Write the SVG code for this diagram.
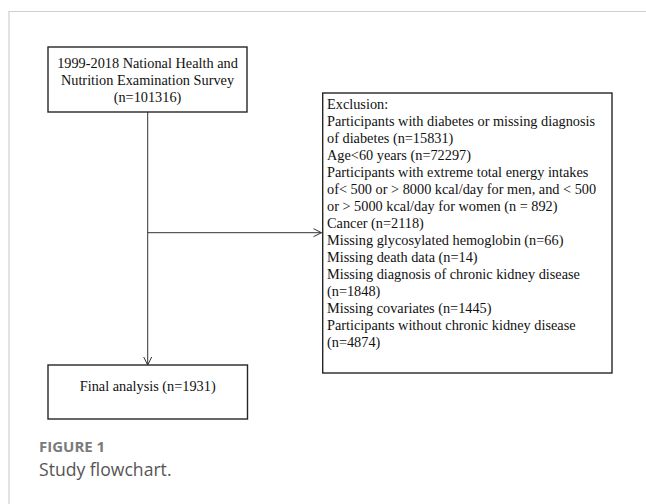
<svg xmlns="http://www.w3.org/2000/svg" width="646" height="504" viewBox="0 0 646 504">
<style>
.box{fill:#fff;stroke:#262626;stroke-width:1.4}
.t{font-family:"Liberation Serif","Times New Roman",serif;font-size:14.3px;fill:#111}
.c{text-anchor:middle}
.ln{stroke:#333;stroke-width:1;fill:none}
.frame{stroke:#cfcfcf;stroke-width:1.2;fill:none}
.cap1{font-family:"Open Sans","Noto Sans",sans-serif;font-weight:bold;font-size:15px;fill:#7a7a7a}
.cap2{font-family:"Open Sans","Noto Sans",sans-serif;font-size:17.6px;fill:#555}
</style>
<defs>
<marker id="arr" markerWidth="10" markerHeight="10" refX="9" refY="5" orient="auto" markerUnits="userSpaceOnUse">
<path d="M1,1 L9,5 L1,9" fill="none" stroke="#333" stroke-width="1"/>
</marker>
</defs>
<path class="frame" d="M9,504 V11.5 H646"/>
<g id="connectors">
<line class="ln" x1="147.7" y1="112" x2="147.7" y2="365" marker-end="url(#arr)"/>
<line class="ln" x1="147.7" y1="232.7" x2="321.5" y2="232.7" marker-end="url(#arr)"/>
</g>
<g id="source">
<rect class="box" x="48" y="47" width="199" height="65"/>
<text class="t c" x="147.5" y="67.5">1999-2018 National Health and</text>
<text class="t c" x="147.5" y="85">Nutrition Examination Survey</text>
<text class="t c" x="147.5" y="101.5">(n=101316)</text>
</g>
<g id="exclusion">
<rect class="box" x="322.7" y="93" width="289.3" height="280"/>
<text class="t" x="327" y="109">Exclusion:</text>
<text class="t" x="327" y="126">Participants with diabetes or missing diagnosis</text>
<text class="t" x="327" y="143">of diabetes (n=15831)</text>
<text class="t" x="327" y="160">Age&lt;60 years (n=72297)</text>
<text class="t" x="327" y="177">Participants with extreme total energy intakes</text>
<text class="t" x="327" y="194">of&lt; 500 or &gt; 8000 kcal/day for men, and &lt; 500</text>
<text class="t" x="327" y="211">or &gt; 5000 kcal/day for women (n = 892)</text>
<text class="t" x="327" y="228">Cancer (n=2118)</text>
<text class="t" x="327" y="245">Missing glycosylated hemoglobin (n=66)</text>
<text class="t" x="327" y="262">Missing death data (n=14)</text>
<text class="t" x="327" y="279">Missing diagnosis of chronic kidney disease</text>
<text class="t" x="327" y="296">(n=1848)</text>
<text class="t" x="327" y="313">Missing covariates (n=1445)</text>
<text class="t" x="327" y="330">Participants without chronic kidney disease</text>
<text class="t" x="327" y="347">(n=4874)</text>
</g>
<g id="final">
<rect class="box" x="48" y="365" width="199.5" height="54"/>
<text class="t c" x="147.7" y="391">Final analysis (n=1931)</text>
</g>
<g id="caption">
<text class="cap1" x="39" y="452">FIGURE 1</text>
<text class="cap2" x="39" y="476">Study flowchart.</text>
</g>
</svg>
